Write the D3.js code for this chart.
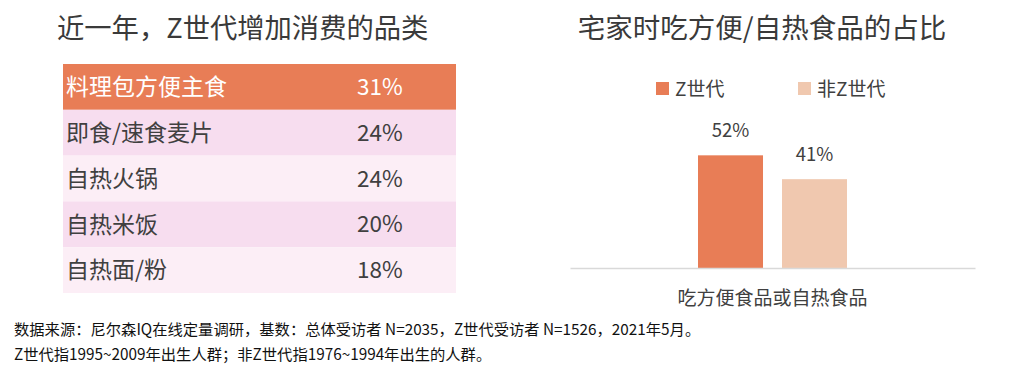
<!DOCTYPE html>
<html>
<head>
<meta charset="utf-8">
<script src="https://cdn.jsdelivr.net/npm/d3@7"></script>
<style>
  body { margin: 0; background: #fff; }
  svg { display: block; font-family: "Noto Sans CJK SC", "Noto Sans", sans-serif; }
</style>
</head>
<body>
<div id="chart"></div>
<script>
const categories = ["料理包方便主食", "即食/速食麦片", "自热火锅", "自热米饭", "自热面/粉"];
const shares = ["31%", "24%", "24%", "20%", "18%"];

const barGroup = ["吃方便食品或自热食品"];
const series = ["Z世代", "非Z世代"];
const seriesValues = [0.52, 0.41];
const seriesColors = ["#E87D56", "#F0C8AF"];
const rowColors = ["#E87D56", "#F7DDEF", "#FCEEF6", "#F7DDEF", "#FCEEF6"];

const notes = [
  "数据来源：尼尔森IQ在线定量调研，基数：总体受访者 N=2035，Z世代受访者 N=1526，2021年5月。",
  "Z世代指1995~2009年出生人群；非Z世代指1976~1994年出生的人群。"
];

const width = 1016, height = 388;
const svg = d3.select("#chart").append("svg")
  .attr("width", width)
  .attr("height", height);

const textColor = "#404040";

// left: table
svg.append("text")
  .attr("x", 57)
  .attr("y", 38)
  .attr("font-size", 27.3)
  .attr("fill", "#3a3a3a")
  .text("近一年，Z世代增加消费的品类");

const rowScale = d3.scaleBand()
  .domain(categories)
  .range([64, 293]);

const rows = svg.append("g").selectAll("g")
  .data(categories)
  .enter().append("g")
  .attr("transform", d => `translate(63, ${rowScale(d)})`);

rows.append("rect")
  .attr("width", 393)
  .attr("height", rowScale.bandwidth())
  .attr("fill", (d, i) => rowColors[i]);

rows.append("text")
  .attr("x", 3)
  .attr("y", rowScale.bandwidth() / 2)
  .attr("dy", "0.36em")
  .attr("font-size", 23)
  .attr("fill", (d, i) => i === 0 ? "#fff" : textColor)
  .text(d => d);

rows.append("text")
  .attr("x", 294)
  .attr("y", rowScale.bandwidth() / 2)
  .attr("dy", "0.36em")
  .attr("font-size", 22.5)
  .attr("fill", (d, i) => i === 0 ? "#fff" : textColor)
  .text((d, i) => shares[i]);

// right: bar chart
svg.append("text")
  .attr("x", 762)
  .attr("y", 38)
  .attr("text-anchor", "middle")
  .attr("font-size", 27.5)
  .attr("fill", "#3a3a3a")
  .text("宅家时吃方便/自热食品的占比");

const x0 = d3.scaleBand()
  .domain(barGroup)
  .range([570, 975]);

const x1 = d3.scaleBand()
  .domain(series)
  .range([0, x0.bandwidth()])
  .paddingInner(0.226)
  .paddingOuter(1.524);

const y = d3.scaleLinear()
  .domain([0, 0.6])
  .range([268, 138]);

const plot = svg.append("g")
  .attr("transform", `translate(${x0(barGroup[0])}, 0)`);

plot.selectAll("rect")
  .data(series)
  .enter().append("rect")
  .attr("x", d => x1(d))
  .attr("width", x1.bandwidth())
  .attr("y", (d, i) => y(seriesValues[i]))
  .attr("height", (d, i) => y(0) - y(seriesValues[i]))
  .attr("fill", (d, i) => seriesColors[i]);

plot.selectAll(".label")
  .data(series)
  .enter().append("text")
  .attr("class", "label")
  .attr("x", d => x1(d) + x1.bandwidth() / 2)
  .attr("y", (d, i) => y(seriesValues[i]) - 18)
  .attr("text-anchor", "middle")
  .attr("font-size", 18.5)
  .attr("fill", textColor)
  .text((d, i) => Math.round(seriesValues[i] * 100) + "%");

const xAxis = d3.axisBottom(x0).tickSize(0).tickPadding(24);
const axisG = svg.append("g")
  .attr("transform", `translate(0, ${y(0)})`)
  .call(xAxis);
axisG.select(".domain").attr("stroke", "#D9D9D9").attr("stroke-width", 1.5);
axisG.selectAll("text")
  .attr("font-size", 19)
  .attr("font-family", "Noto Sans CJK SC")
  .attr("fill", textColor);

// legend
const legendX = [656, 798];
const legend = svg.append("g").selectAll("g")
  .data(series)
  .enter().append("g")
  .attr("transform", (d, i) => `translate(${legendX[i]}, 82)`);

legend.append("rect")
  .attr("width", 13)
  .attr("height", 13)
  .attr("fill", (d, i) => seriesColors[i]);

legend.append("text")
  .attr("x", 19)
  .attr("y", 7)
  .attr("dy", "0.36em")
  .attr("font-size", 19)
  .attr("fill", textColor)
  .text(d => d);

// notes
svg.append("g").selectAll("text")
  .data(notes)
  .enter().append("text")
  .attr("x", 14)
  .attr("y", (d, i) => 335 + i * 25)
  .attr("font-size", 15.3)
  .attr("fill", "#111")
  .text(d => d);
</script>
</body>
</html>
